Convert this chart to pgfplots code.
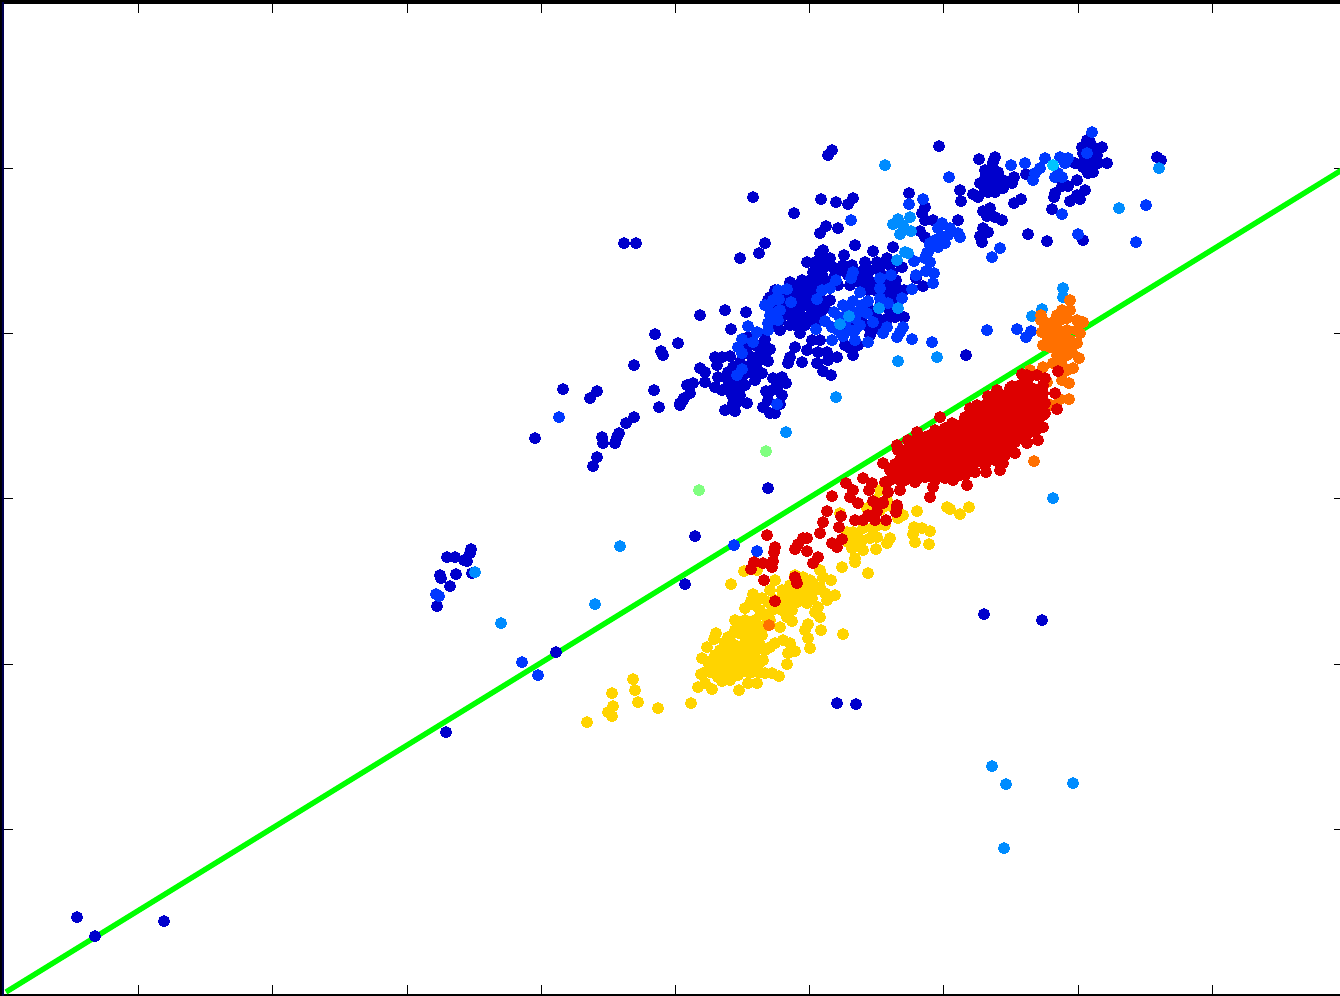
\documentclass[border=0pt]{standalone}
\usepackage{pgfplots}
\pgfplotsset{compat=1.18}
\definecolor{cDark}{HTML}{0000CC}
\definecolor{cBlue}{HTML}{0038FF}
\definecolor{cSky}{HTML}{008CFF}
\definecolor{cCyan}{HTML}{00C4FF}
\definecolor{cLight}{HTML}{80FF80}
\definecolor{cGold}{HTML}{FFD400}
\definecolor{cOrange}{HTML}{FF7000}
\definecolor{cRed}{HTML}{DD0000}
\definecolor{cLine}{HTML}{00FF00}
\definecolor{cNavy}{HTML}{000050}
\pgfplotsset{dots/.style={only marks,mark=*,mark size=4.2pt,mark options={draw=#1,fill=#1,line width=0pt,xscale=1.04,yscale=0.94}}}
\begin{document}
\begin{tikzpicture}[x=0.75pt,y=0.75pt]
\path[use as bounding box] (0,0) rectangle (1340,996);
\begin{axis}[
  at={(2,0)},anchor=south west,
  scale only axis,width=1007.25pt,height=745.875pt,
  xmin=2,xmax=1345,ymin=1.5,ymax=996,y dir=reverse,
  xtick={138,272,407,541,675,809,943,1078,1212},
  ytick={168,333,498,664,829},
  xticklabels={},yticklabels={},
  tick align=inside,major tick length=8.25pt,
  tick style={black,line width=0.75pt},
  axis line style={black,line width=3pt},
]
\addplot[dots=cDark] coordinates {
(77,917)(95,936)(164,921)(446,732)(556,652)(685,584)(695,536)(768,488)(984,614)(1042,620)(837,703)(856,704)(966,355)(939,146)(832,150)(828,155)(753,197)(794,213)(624,243)(636,243)(765,243)(759,253)(740,258)(821,199)(836,202)(853,198)(848,204)
(447,557)(455,557)(467,561)(471,549)(470,553)(464,560)(440,575)(441,578)(456,574)(472,573)(450,586)(437,606)
(535,438)(563,389)(590,398)(597,391)(602,437)(603,443)(617,437)(619,433)(615,443)(626,423)(634,417)(597,457)(593,466)(634,365)(655,334)(661,351)(663,355)(678,343)(654,390)(659,407)(680,403)(684,398)
(826,226)(820,233)(838,228)(700,315)(725,310)(746,312)(731,329)(855,245)
(823,250)(820,253)(830,258)(844,255)(807,262)(873,251)(893,247)(865,262)(877,262)(887,258)(902,267)(914,261)(852,265)(843,265)(833,267)(822,270)(813,272)(810,280)(823,277)(835,275)(848,275)(860,272)(870,270)(880,272)(892,272)(896,280)(888,285)(900,290)(904,290)(872,282)(862,285)(850,285)(838,285)(826,285)(815,288)(805,290)(797,285)(790,282)(775,290)(770,297)(768,300)(790,295)(800,300)(810,300)(820,298)(830,300)(812,310)(800,315)(790,315)(780,320)(770,325)(795,325)(805,325)(815,322)(800,333)
(785,305)(795,308)(805,305)(815,305)(825,308)(790,325)(780,330)(860,280)(875,290)(885,295)(895,300)(880,305)(870,310)(860,320)(850,325)(870,335)(880,320)(890,315)(896,290)
(815,262)(825,262)(818,280)(830,282)(843,270)(855,275)(867,276)(880,265)(890,265)(885,278)(868,290)(802,280)(808,295)(796,295)(786,298)(800,308)(810,316)(820,315)(785,312)(795,318)(805,318)(798,300)(775,305)(892,295)(888,308)(876,315)(866,325)(842,328)(858,345)(845,345)
(795,347)(790,357)(788,363)(802,362)(818,352)(827,352)(837,357)(817,363)(828,360)(853,355)(850,348)(823,371)(831,375)(812,340)(820,340)(807,350)(877,328)(904,317)(895,317)(888,318)(923,286)(916,278)(893,290)
(715,357)(722,357)(730,356)(717,365)(700,368)(705,372)(705,382)(718,377)(728,372)(733,367)(752,357)(760,353)(770,349)(765,339)(748,337)(755,345)(747,353)(757,363)(768,361)(762,373)(752,373)(743,375)(737,380)(773,378)(782,377)(786,383)(778,385)(766,391)(772,390)(782,395)(768,400)(780,404)(763,407)(770,413)(775,413)(725,410)(735,411)(747,403)(737,402)(732,395)(737,389)(728,387)(715,387)(722,390)(693,383)(687,385)(690,393)(683,400)(680,405)(740,362)(750,365)(745,385)(755,380)(760,345)(748,345)(738,370)(728,380)(733,403)(740,395)(750,368)(757,370)(765,355)
(979,159)(995,157)(993,162)(985,170)(988,173)(998,172)(995,178)(1014,177)(1012,183)(980,183)(990,185)(1003,188)(995,192)(988,192)(960,190)(961,201)(973,194)(978,197)(1014,203)(1021,199)(983,211)(990,208)(987,216)(995,217)(1002,220)(983,228)(988,232)(980,236)(982,242)(1028,234)(1047,241)(1083,240)(1052,209)(1055,193)(1054,197)(1062,186)(1068,186)(1077,180)(1085,190)(1077,195)(1080,199)(1070,201)(1026,174)(1075,163)(1087,140)(1082,147)(1083,153)(1093,147)(1102,147)(1097,155)(1088,165)(1083,167)(1093,163)(1107,163)(1088,173)(1093,172)(1157,157)(1161,160)(909,193)(925,207)(922,213)(925,220)(933,220)(958,220)(920,231)(925,237)(893,247)
(992,167)(985,178)(1003,180)(998,185)(985,190)(1088,150)(1092,157)(1085,158)(1098,163)(1090,142)
};
\addplot[dots=cBlue] coordinates {
(436,594)(439,596)(522,662)(538,675)(559,417)(757,551)(734,545)(851,220)(1136,242)
(748,326)(757,332)(742,339)(753,342)(738,347)(742,353)(742,369)(737,375)(777,404)(765,305)(768,305)(780,310)(775,313)(768,323)(768,330)(778,290)(787,289)(779,299)(791,302)(817,299)(822,290)(830,288)(836,280)(851,278)(853,272)(860,292)(880,278)(891,275)(880,288)(880,298)(888,303)(868,301)(853,301)(843,305)(834,312)(847,313)(857,313)(867,313)(825,321)(816,329)(832,327)(832,340)(843,336)(855,330)(855,340)(868,342)(873,322)(887,327)(883,333)(897,337)(903,327)(900,332)(912,339)(902,298)(932,342)(912,289)(916,275)(926,271)(934,273)(933,283)(927,253)(930,243)(937,240)(845,322)(855,318)
(770,315)(778,320)(773,300)(850,308)(840,318)(850,330)(860,325)(838,330)(862,305)
(949,177)(1011,165)(1025,163)(1045,158)(1060,157)(1068,158)(1065,163)(1040,168)(1035,173)(1033,180)(1055,177)(1062,177)(1058,173)(1092,132)(1087,153)(1062,214)(923,199)(909,204)(1000,248)(992,257)(1078,234)(1146,205)
(942,223)(938,228)(950,228)(958,233)(960,237)(948,235)(942,237)(935,240)(945,243)(938,247)(930,245)(928,252)(925,258)(930,262)(914,261)
(987,330)(1017,329)(1031,331)(1026,337)
};
\addplot[dots=cSky] coordinates {
(475,572)(501,623)(595,604)(620,546)(786,432)(836,397)(898,361)(937,357)(1053,498)(992,766)(1006,784)(1073,783)(1004,848)(885,165)(1159,168)(1119,208)
(849,316)(840,324)(879,308)(898,308)(897,260)(905,252)(908,253)
(898,219)(893,224)(910,217)(903,225)(900,234)(911,231)
(1063,288)(1063,297)(1032,316)(1042,309)
};
\addplot[dots=cCyan] coordinates {(1053,165)};
\addplot[dots=cLight] coordinates {(699,490)(766,451)};
\addplot[dots=cGold] coordinates {
(633,679)(635,690)(612,693)(638,702)(658,708)(613,706)(608,712)(612,716)(587,722)
(917,511)(914,527)(922,528)(930,531)(913,534)(915,542)(929,544)(947,507)(950,509)(960,514)(969,507)(842,567)(855,558)(855,562)(868,573)(847,532)(853,532)(848,542)(855,542)(852,548)(863,550)(876,549)(887,543)(890,538)(877,537)(870,538)(862,540)(857,535)(863,528)(872,528)(883,507)(880,490)(887,500)(893,507)(898,518)(903,515)(880,510)(867,508)(840,513)(875,500)(885,525)(878,525)
(731,584)(744,571)(757,570)(775,580)(795,575)(803,577)(820,570)(823,577)(831,580)(813,583)(803,585)(790,585)(793,592)(808,592)(820,587)(825,593)(835,595)(827,600)(807,603)(818,607)(815,612)(820,617)(797,602)(787,600)(770,590)(753,594)(751,601)(762,598)(745,608)(760,610)(772,610)(782,610)(792,610)(787,617)(792,621)(780,627)(735,620)(745,620)(755,620)(808,624)(805,630)(808,638)(821,630)(843,634)(810,648)(783,640)(775,643)(790,643)(795,651)(788,653)(787,664)(770,647)(765,650)(763,660)(765,673)(779,676)(772,673)(716,633)(714,639)(707,647)(702,658)(728,637)(739,633)(750,633)(701,674)(698,687)(705,683)(712,689)(722,681)(739,690)(748,683)(757,683)(691,703)
(715,655)(725,650)(735,645)(745,642)(755,640)(760,630)(715,665)(725,660)(735,655)(745,652)(755,650)(710,672)(720,670)(730,668)(740,665)(750,662)(758,665)(728,675)(738,675)(748,672)(725,642)(740,625)(750,627)(770,620)(775,600)(800,590)(812,598)(782,590)(765,625)
(708,662)(720,660)(730,652)(740,650)(750,645)(760,645)(762,635)(745,630)(755,630)(735,630)(730,640)(720,650)(712,665)(705,672)(718,677)(730,680)(742,670)(752,672)(760,672)(755,657)(745,660)(735,662)(725,668)(765,615)(755,605)(768,602)(778,600)(790,598)(800,598)(810,580)(815,590)
};
\addplot[dots=cOrange] coordinates {
(769,625)(1034,461)
(1070,300)(1062,310)(1057,315)(1070,310)(1041,315)(1041,320)(1047,323)(1053,322)(1060,320)(1067,318)(1077,320)(1083,322)(1042,332)(1050,330)(1058,330)(1067,330)(1077,330)(1080,333)(1077,343)(1070,340)(1062,338)(1053,338)(1043,345)(1050,347)(1060,347)(1068,348)(1072,352)(1057,355)(1067,355)(1079,358)(1043,367)(1053,363)(1062,365)(1073,368)(1067,370)(1062,380)(1069,383)(1047,382)(1030,370)(1060,399)(1069,399)(1051,405)(1045,325)(1048,338)
};
\addplot[dots=cRed] coordinates {
(1058,371)(1027,375)(1037,375)(1045,378)(1022,374)(1028,379)(1012,386)(997,390)(988,396)(1032,388)(1055,393)(1043,393)(1057,409)(1045,403)(977,405)(970,408)(940,417)(917,432)(908,440)(897,445)(952,423)(965,417)
(1045,413)(1043,427)(1038,440)(1027,443)(1015,453)(1003,463)(1000,470)(986,472)(967,485)(953,480)(933,487)(930,497)(900,490)(885,482)(888,492)(883,503)(897,507)(896,512)(883,463)(895,464)(893,477)(898,450)
(905,450)(905,460)(905,470)(905,480)(915,442)(915,452)(915,462)(915,472)(915,482)(925,437)(925,447)(925,457)(925,467)(925,477)(935,430)(935,440)(935,450)(935,460)(935,470)(935,480)(945,428)(945,438)(945,448)(945,458)(945,468)(945,478)(955,430)(955,440)(955,450)(955,460)(955,470)(965,425)(965,435)(965,445)(965,455)(965,465)(965,475)(975,412)(975,422)(975,432)(975,442)(975,452)(975,462)(975,472)(985,405)(985,415)(985,425)(985,435)(985,445)(985,455)(985,465)(995,400)(995,410)(995,420)(995,430)(995,440)(995,450)(995,460)(1005,395)(1005,405)(1005,415)(1005,425)(1005,435)(1005,445)(1005,455)(1015,392)(1015,402)(1015,412)(1015,422)(1015,432)(1015,442)(1025,388)(1025,398)(1025,408)(1025,418)(1025,428)(1025,438)(1035,392)(1035,402)(1035,412)(1035,422)(1035,432)(1043,385)(1043,400)(1043,415)(1010,388)(1020,385)
(910,445)(910,455)(910,465)(910,475)(920,447)(920,457)(920,467)(920,477)(930,435)(930,445)(930,455)(930,465)(930,475)(940,435)(940,445)(940,455)(940,465)(940,475)(950,435)(950,445)(950,455)(950,465)(950,475)(960,425)(960,435)(960,445)(960,455)(960,465)(960,475)(970,418)(970,428)(970,438)(970,448)(970,458)(970,468)(980,410)(980,420)(980,430)(980,440)(980,450)(980,460)(990,405)(990,415)(990,425)(990,435)(990,445)(990,455)(1000,400)(1000,410)(1000,420)(1000,430)(1000,440)(1000,450)(1000,460)(1010,398)(1010,408)(1010,418)(1010,428)(1010,438)(1010,448)(1020,395)(1020,405)(1020,415)(1020,425)(1020,435)(1030,392)(1030,402)(1030,412)(1030,422)(1030,432)(1038,398)(1038,408)(1038,418)(900,460)(900,470)(900,480)(890,470)(890,480)
(846,483)(853,490)(863,478)(872,483)(850,497)(858,503)(869,490)(873,501)(883,502)(897,505)(896,512)(877,511)(868,515)(855,520)(863,520)(875,520)(886,520)(832,496)(827,511)(841,516)(823,522)(839,527)(820,533)(842,539)(832,543)(837,547)(767,535)(775,547)(774,552)(803,538)(807,538)(798,544)(795,549)(807,551)(818,557)(813,563)(754,562)(751,569)(763,563)(773,561)(772,567)(764,580)(795,577)(797,583)(775,601)(887,482)(888,492)
};
\addplot[cLine,line width=4pt] coordinates {(6,992)(1345,168)};
\draw[cNavy,line width=3pt] (axis cs:2,1.5) -- (axis cs:2,996);
\end{axis}
\end{tikzpicture}
\end{document}
